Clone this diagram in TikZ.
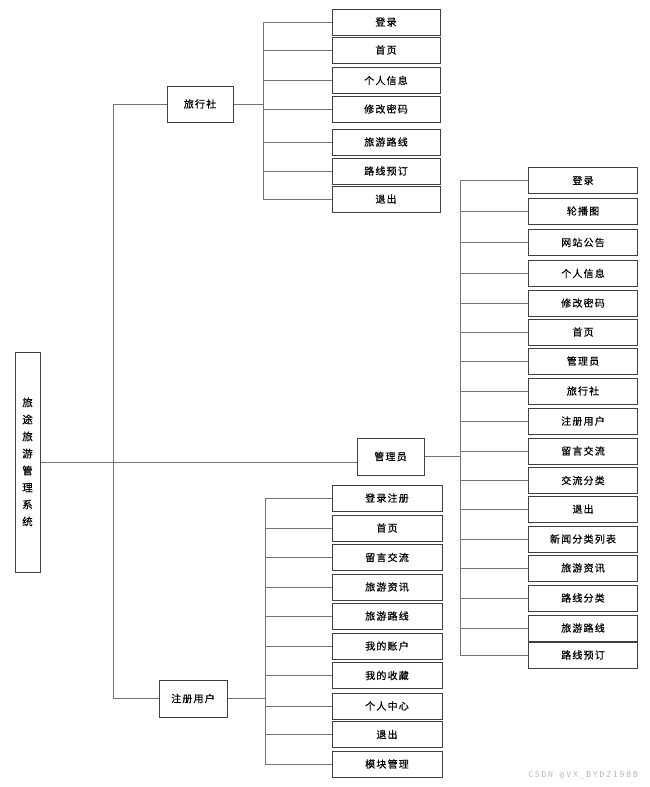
\documentclass[tikz,border=0pt]{standalone}
\usepackage{fontspec}
\newfontfamily\cjk[LetterSpace=12,FakeBold=0.4]{Noto Sans CJK SC}
\newfontfamily\wm[LetterSpace=23]{DejaVu Sans Mono}
\begin{document}
\begin{tikzpicture}[x=1pt,y=-1pt,
  bx/.style={draw=black!75, line width=1pt, fill=white, inner sep=0pt, font=\cjk\fontsize{10}{11}\selectfont},
  cb/.style={bx, minimum width=108pt, minimum height=26pt},
  ln/.style={draw=black!55, line width=1pt}]
\useasboundingbox (0,0) rectangle (649,787);

% root
\node[bx, minimum width=25pt, minimum height=220pt, align=center, font=\cjk\fontsize{10.5}{17}\selectfont] (root) at (27.5,462)
  {旅\\途\\旅\\游\\管\\理\\系\\统};
% second level
\node[bx, minimum width=66pt, minimum height=36pt] (lxs) at (200,104) {旅行社};
\node[bx, minimum width=67pt, minimum height=37pt] (gly) at (390.5,456.5) {管理员};
\node[bx, minimum width=68pt, minimum height=37pt] (zc) at (193,698.5) {注册用户};

% spine coordinates
\coordinate (ls) at (113,0);
\coordinate (ts) at (263,0);
\coordinate (rs) at (460,0);
\coordinate (bs) at (265,0);

% left spine
\draw[ln] (lxs.west) -- (lxs.west -| ls) -- (zc.west -| ls) -- (zc.west);
\draw[ln] (root.east) -- (gly.west |- root.east);

% top children
\foreach \t/\y [count=\i] in {登录/22,首页/50,个人信息/80.5,修改密码/109,旅游路线/142,路线预订/171,退出/199}{
  \node[cb] (t\i) at (386,\y) {\t};
  \draw[ln] (t\i.west) -- (t\i.west -| ts);
}
\draw[ln] (t1.west -| ts) -- (t7.west -| ts);
\draw[ln] (lxs.east) -- (lxs.east -| ts);

% right children
\foreach \t/\y [count=\i] in {登录/180.5,轮播图/211,网站公告/242.5,个人信息/273.5,修改密码/303,首页/332,管理员/361,旅行社/391,注册用户/421,留言交流/451,交流分类/480.5,退出/509,新闻分类列表/539,旅游资讯/568,路线分类/598,旅游路线/628,路线预订/655}{
  \node[cb, minimum width=109pt] (r\i) at (583,\y) {\t};
  \draw[ln] (r\i.west) -- (r\i.west -| rs);
}
\draw[ln] (r1.west -| rs) -- (r17.west -| rs);
\draw[ln] (gly.east) -- (gly.east -| rs);

% bottom children
\foreach \t/\y [count=\i] in {登录注册/498,首页/528,留言交流/557.5,旅游资讯/587,旅游路线/616,我的账户/646,我的收藏/675.5,个人中心/706,退出/734.5,模块管理/764}{
  \node[cb, minimum width=110pt] (b\i) at (387,\y) {\t};
  \draw[ln] (b\i.west) -- (b\i.west -| bs);
}
\draw[ln] (b1.west -| bs) -- (b10.west -| bs);
\draw[ln] (zc.east) -- (zc.east -| bs);

% watermark
\node[text=black!28, font=\wm\fontsize{8}{9}\selectfont, inner sep=0pt] (wm) at (583,775) {CSDN @VX\_BYDZ1988};
\end{tikzpicture}
\end{document}
